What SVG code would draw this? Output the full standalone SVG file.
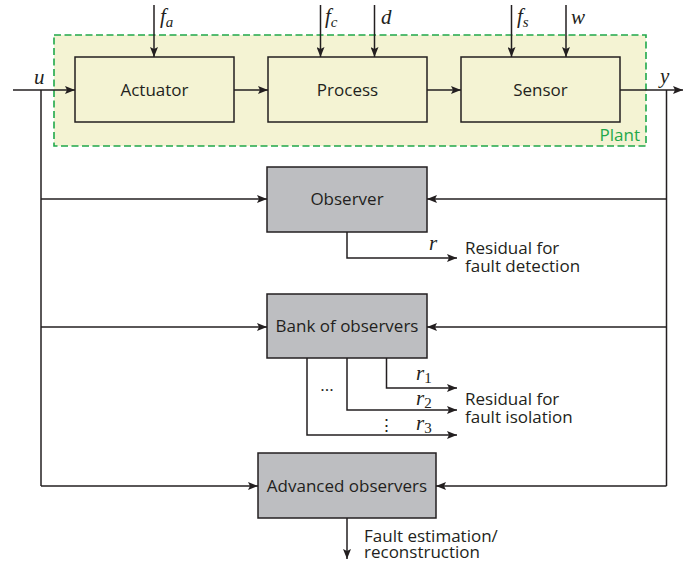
<svg xmlns="http://www.w3.org/2000/svg" width="683" height="563" viewBox="0 0 683 563">
<style>
.ln{fill:none;stroke:#231f20;stroke-width:1.5}
.blk{fill:#f4f3d3;stroke:#231f20;stroke-width:1.5}
.obs{fill:#bdbec1;stroke:#231f20;stroke-width:1.5}
.t{font-family:"Open Sans","Noto Sans",sans-serif;font-size:17px;fill:#231f20}
.m{font-family:"Liberation Serif","DejaVu Serif",serif;font-style:italic;font-size:21px;fill:#231f20}
.sub{font-size:15px;font-style:italic}
.num{font-size:15px;font-style:normal}
</style>
<defs>
<marker id="ar" viewBox="0 0 10 8" refX="10" refY="4" markerWidth="10" markerHeight="8" markerUnits="userSpaceOnUse" orient="auto">
<path d="M0,0 L10,4 L0,8 L2,4 Z" fill="#231f20"/>
</marker>
</defs>
<g id="plant">
<rect x="54" y="35" width="592" height="111" fill="#f4f3d3" stroke="#1fa84a" stroke-width="1.6" stroke-dasharray="7,3.5"/>
<text x="640" y="141" text-anchor="end" class="t" style="fill:#1fa84a">Plant</text>
</g>
<g id="actuator"><rect x="75" y="57" width="159" height="65" class="blk"/><text x="154.5" y="95.5" text-anchor="middle" class="t">Actuator</text></g>
<g id="process"><rect x="268" y="57" width="159" height="65" class="blk"/><text x="347.5" y="95.5" text-anchor="middle" class="t">Process</text></g>
<g id="sensor"><rect x="461" y="57" width="159" height="65" class="blk"/><text x="540.5" y="95.5" text-anchor="middle" class="t">Sensor</text></g>
<g id="observer"><rect x="267" y="167" width="160" height="65" class="obs"/><text x="347" y="205" text-anchor="middle" class="t">Observer</text></g>
<g id="bank"><rect x="267" y="294" width="160" height="64" class="obs"/><text x="347" y="332" text-anchor="middle" class="t">Bank of observers</text></g>
<g id="advanced"><rect x="258" y="453" width="178" height="65" class="obs"/><text x="347" y="491.5" text-anchor="middle" class="t">Advanced observers</text></g>
<g id="connectors">
<path class="ln" d="M13,90 H75" marker-end="url(#ar)"/>
<path class="ln" d="M234,90 H268" marker-end="url(#ar)"/>
<path class="ln" d="M427,90 H461" marker-end="url(#ar)"/>
<path class="ln" d="M620,90 H683" marker-end="url(#ar)"/>
<path class="ln" d="M154,5 V57" marker-end="url(#ar)"/>
<path class="ln" d="M320.5,5 V57" marker-end="url(#ar)"/>
<path class="ln" d="M374.5,5 V57" marker-end="url(#ar)"/>
<path class="ln" d="M511.5,5 V57" marker-end="url(#ar)"/>
<path class="ln" d="M566,5 V57" marker-end="url(#ar)"/>
<path class="ln" d="M41,90 V486"/>
<path class="ln" d="M666.5,90 V486"/>
<path class="ln" d="M41,199 H267" marker-end="url(#ar)"/>
<path class="ln" d="M666.5,199 H427" marker-end="url(#ar)"/>
<path class="ln" d="M41,327 H267" marker-end="url(#ar)"/>
<path class="ln" d="M666.5,327 H427" marker-end="url(#ar)"/>
<path class="ln" d="M41,486 H258" marker-end="url(#ar)"/>
<path class="ln" d="M666.5,486 H436" marker-end="url(#ar)"/>
<path class="ln" d="M347,232 V258 H457" marker-end="url(#ar)"/>
<path class="ln" d="M386.5,358 V388 H457" marker-end="url(#ar)"/>
<path class="ln" d="M347,358 V410 H457" marker-end="url(#ar)"/>
<path class="ln" d="M307,358 V435 H457" marker-end="url(#ar)"/>
<path class="ln" d="M347,518 V559" marker-end="url(#ar)"/>
</g>
<g id="labels">
<text x="34" y="84" class="m">u</text>
<text x="660" y="83" class="m">y</text>
<text x="160" y="23" class="m">f<tspan class="sub" dy="4">a</tspan></text>
<text x="325" y="23" class="m">f<tspan class="sub" dy="4">c</tspan></text>
<text x="381" y="24" class="m">d</text>
<text x="517" y="23" class="m">f<tspan class="sub" dy="4">s</tspan></text>
<text x="571" y="24" class="m">w</text>
<text x="429" y="250" class="m">r</text>
<text x="416" y="380" class="m">r<tspan class="num" dy="3">1</tspan></text>
<text x="416" y="405" class="m">r<tspan class="num" dy="3">2</tspan></text>
<text x="416" y="430" class="m">r<tspan class="num" dy="3">3</tspan></text>
<text x="327" y="391" text-anchor="middle" class="t">...</text>
<text x="386.5" y="431" text-anchor="middle" class="t">⋮</text>
<text class="t"><tspan x="465" y="254">Residual for</tspan><tspan x="465" y="272">fault detection</tspan></text>
<text class="t"><tspan x="465" y="405">Residual for</tspan><tspan x="465" y="423">fault isolation</tspan></text>
<text class="t"><tspan x="364" y="542">Fault estimation/</tspan><tspan x="364" y="558">reconstruction</tspan></text>
</g>
</svg>
